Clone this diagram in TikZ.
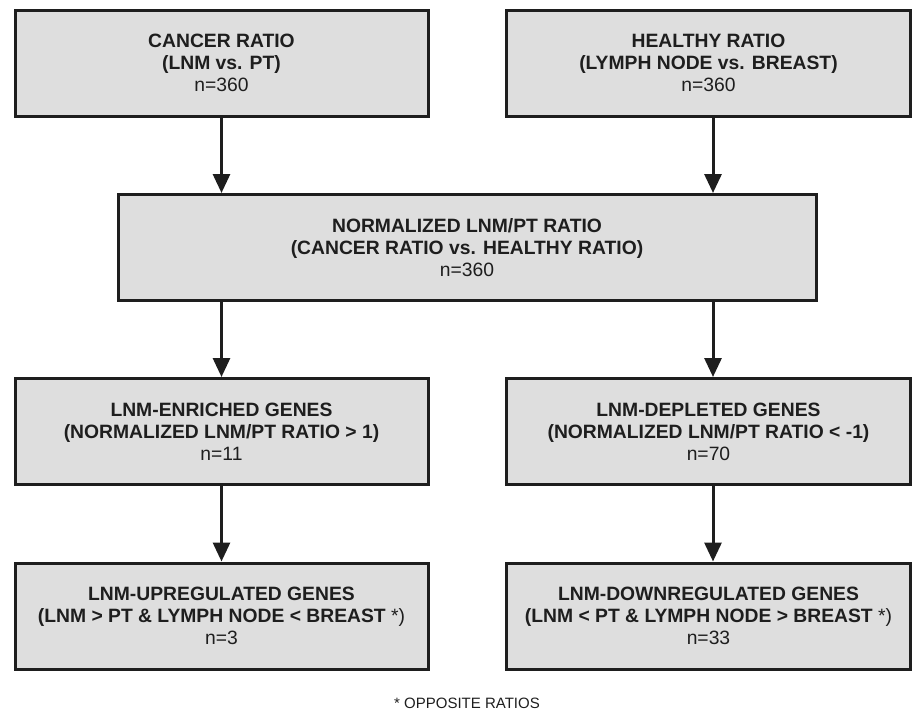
\documentclass[tikz,border=0pt]{standalone}
\usepackage{fontspec}
\setmainfont{Liberation Sans}
\usetikzlibrary{arrows.meta,positioning}
\definecolor{boxgray}{HTML}{DEDEDE}
\definecolor{inkgray}{HTML}{1E1E1E}

\begin{document}
\begin{tikzpicture}[x=1pt,y=-1pt]
      \useasboundingbox (0,0) rectangle (914,712);
      \begin{scope}[every node/.style={rectangle,draw=inkgray,line width=3pt,fill=boxgray,
          text=inkgray,align=center,inner sep=0pt,minimum height=106pt,
          font=\fontsize{19.3}{22}\selectfont}]
        \node[minimum width=413pt] (A) at (221.5,63) {\textbf{CANCER RATIO}\\\textbf{(LNM vs. PT)}\\n=360};
        \node[minimum width=404pt] (B) at (708.5,63) {\textbf{HEALTHY RATIO}\\\textbf{(LYMPH NODE vs. BREAST)}\\n=360};
        \node[minimum width=698pt] (C) at (467,247.5) {\textbf{NORMALIZED LNM/PT RATIO}\\\textbf{(CANCER RATIO vs. HEALTHY RATIO)}\\n=360};
        \node[minimum width=413pt] (D) at (221.5,431.5) {\textbf{LNM-ENRICHED GENES}\\\textbf{(NORMALIZED LNM/PT RATIO > 1)}\\n=11};
        \node[minimum width=404pt] (E) at (708.5,431.5) {\textbf{LNM-DEPLETED GENES}\\\textbf{(NORMALIZED LNM/PT RATIO < -1)}\\n=70};
        \node[minimum width=413pt] (F) at (221.5,616) {\textbf{LNM-UPREGULATED GENES}\\\textbf{(LNM > PT \& LYMPH NODE < BREAST} *)\\n=3};
        \node[minimum width=404pt] (G) at (708.5,616) {\textbf{LNM-DOWNREGULATED GENES}\\\textbf{(LNM < PT \& LYMPH NODE > BREAST} *)\\n=33};
      \end{scope}
      \begin{scope}
        [every edge/.style={draw=inkgray,line width=3pt,-{Triangle[length=19pt,width=17pt]}}]
        \path (A.south) edge (A.south |- C.north);
        \path ([xshift=4.5pt]B.south) edge ([xshift=4.5pt]B.south |- C.north);
        \path (C.south -| D.north) edge (D.north);
        \path ([xshift=4.5pt]C.south -| E.north) edge ([xshift=4.5pt]E.north);
        \path (D.south) edge (F.north);
        \path ([xshift=4.5pt]E.south) edge ([xshift=4.5pt]G.north);
      \end{scope}
      \node[anchor=base,text=inkgray,font=\fontsize{15}{18}\selectfont] (note) at (467,708) {* OPPOSITE RATIOS};
    \end{tikzpicture}
\end{document}
